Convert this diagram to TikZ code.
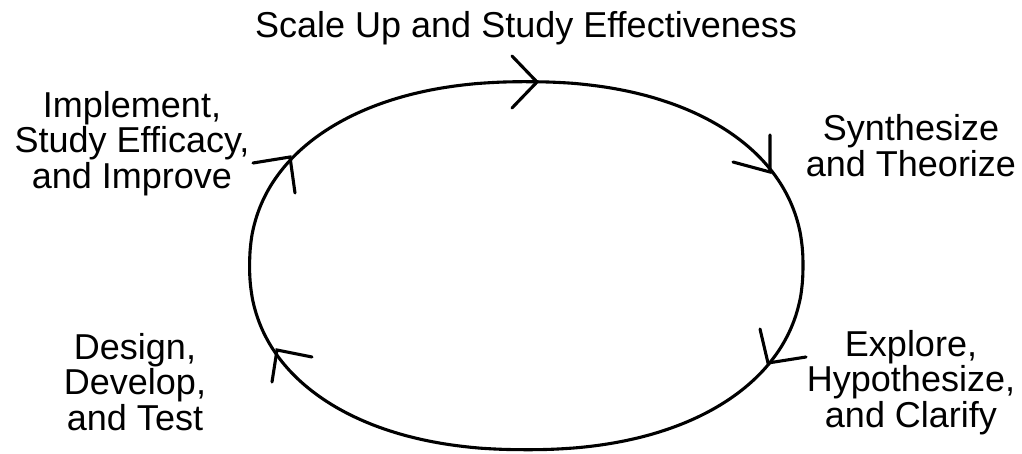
\documentclass[tikz,border=0pt]{standalone}
\usepackage{fontspec}
\setmainfont{Liberation Sans}
\begin{document}
\begin{tikzpicture}[x=1pt,y=-1pt,
  loop/.style={line width=3.1pt,line join=round,line cap=round},
  barb/.style={line width=3.1pt,line cap=round},
  lbl/.style={font={\fontsize{36}{35.5}\selectfont},align=center,inner sep=0pt,anchor=base}]
\useasboundingbox (0,0) rectangle (1022,453);
% cycle (slightly squarish ellipse)
\draw[loop] plot[domain=0.5:360.5,samples=181,smooth cycle]
  ({526.3+276.7*sign(cos(\x))*abs(cos(\x))^0.91},{265.7-184*sign(sin(\x))*abs(sin(\x))^0.91});
% arrow tips
\coordinate (t1) at (537,82);
\coordinate (t2) at (770,172);
\coordinate (t3) at (768,363);
\coordinate (t4) at (277,350);
\coordinate (t5) at (290,157);
\draw[barb] (512,56) -- (t1) -- (512,108);
\draw[barb] (770,135) -- (t2) -- (733,162);
\draw[barb] (760,329) -- (t3) -- (806,357);
\draw[barb] (312,357) -- (t4) -- (272,382);
\draw[barb] (253,163) -- (t5) -- (295,193);
% labels (anchor=base sits on the last line's baseline)
\node[lbl] (scale) at (526,37) {Scale Up and Study Effectiveness};
\node[lbl] (synth) at (911,176) {Synthesize\\and Theorize};
\node[lbl] (explore) at (911,427) {Explore,\\Hypothesize,\\and Clarify};
\node[lbl] (design) at (135,430) {Design,\\Develop,\\and Test};
\node[lbl] (impl) at (132,188) {Implement,\\Study Efficacy,\\and Improve};
\end{tikzpicture}
\end{document}
